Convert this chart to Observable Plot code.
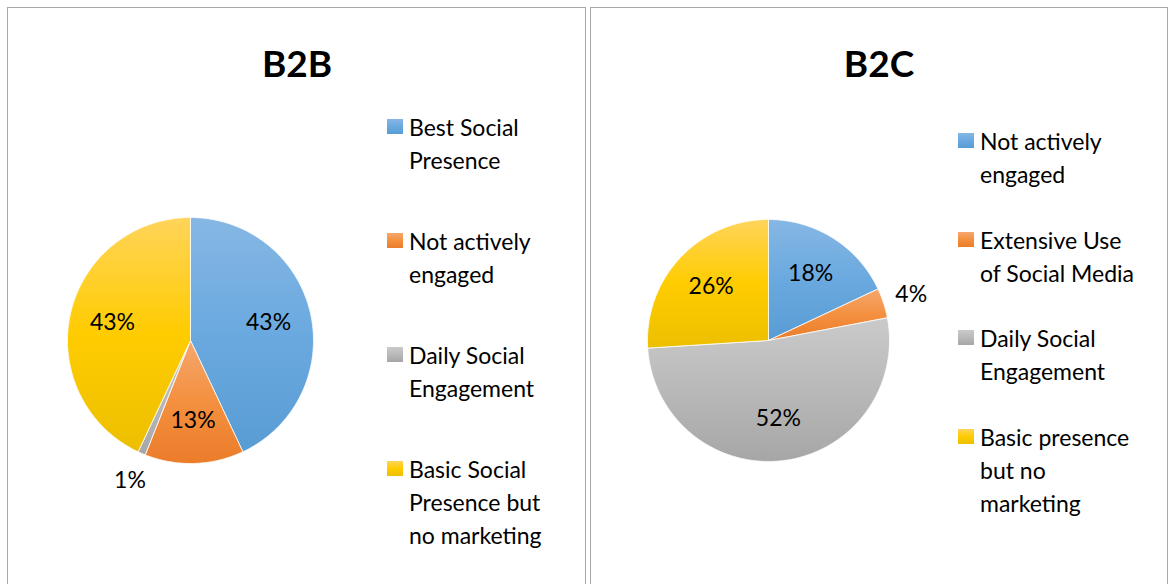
<!DOCTYPE html>
<html>
<head>
<meta charset="utf-8">
<script src="https://cdn.jsdelivr.net/npm/d3@7"></script>
<script src="https://cdn.jsdelivr.net/npm/@observablehq/plot@0.6"></script>
<style>
  body { margin: 0; background: #fff; }
  #root { position: relative; width: 1169px; height: 584px; overflow: hidden; font-family: Lato, "Open Sans", sans-serif; color: #000; }
  .panel { position: absolute; top: 7px; height: 620px; border: 1px solid #a8a8a8; box-sizing: border-box; }
  .title { position: absolute; text-align: center; font-weight: bold; font-size: 37px; line-height: 37px; }
  .legtext { position: absolute; font-size: 23px; line-height: 33px; white-space: nowrap; }
  .swatch { position: absolute; width: 16px; height: 15px; }
  .pie { position: absolute; }
</style>
</head>
<body>
<svg width="0" height="0" style="position:absolute">
  <defs id="gradDefs"></defs>
</svg>
<div id="root"></div>
<script>
// ---- data ----
const b2bCategories = ["Best Social Presence", "Not actively engaged", "Daily Social Engagement", "Basic Social Presence but no marketing"];
const b2bValues = [43, 13, 1, 43];
const b2bLegendLines = [["Best Social", "Presence"], ["Not actively", "engaged"], ["Daily Social", "Engagement"], ["Basic Social", "Presence but", "no marketing"]];

const b2cCategories = ["Not actively engaged", "Extensive Use of Social Media", "Daily Social Engagement", "Basic presence but no marketing"];
const b2cValues = [18, 4, 52, 26];
const b2cLegendLines = [["Not actively", "engaged"], ["Extensive Use", "of Social Media"], ["Daily Social", "Engagement"], ["Basic presence", "but no", "marketing"]];

const titles = ["B2B", "B2C"];
// gradient stops (top, middle, bottom) per slice index
const sliceColors = [
  ["#86b7e4", "#6aa9df", "#589cd4"],
  ["#f6a76e", "#f3903f", "#eb7c2a"],
  ["#cacaca", "#b9b9b9", "#a6a6a6"],
  ["#ffd45a", "#ffcc00", "#ecbf00"]
];

// ---- gradients ----
const defs = d3.select("#gradDefs");
sliceColors.forEach((c, i) => {
  const g = defs.append("linearGradient").attr("id", "grad" + i)
    .attr("x1", 0).attr("y1", 0).attr("x2", 0).attr("y2", 1);
  g.append("stop").attr("offset", "0%").attr("stop-color", c[0]);
  g.append("stop").attr("offset", "50%").attr("stop-color", c[1]);
  g.append("stop").attr("offset", "100%").attr("stop-color", c[2]);
});

// ---- layout ----
const panels = [
  { left: 7, width: 579, cx: 190, cy: 340, r: 123, titleX: 297, legX: 387, legTop: 119, legStep: 114,
    cats: b2bCategories, vals: b2bValues, lines: b2bLegendLines },
  { left: 590, width: 578, cx: 768, cy: 340, r: 121, titleX: 879, legX: 958, legTop: 133, legStep: 98.7,
    cats: b2cCategories, vals: b2cValues, lines: b2cLegendLines }
];

function piePlot(cats, vals, size, radiusPx) {
  const total = d3.sum(vals);
  const half = size / 2 / radiusPx;
  const pts = [];
  const labels = [];
  let acc = 0;
  cats.forEach((c, i) => {
    const a0 = acc / total * 2 * Math.PI;
    const a1 = (acc + vals[i]) / total * 2 * Math.PI;
    acc += vals[i];
    const n = Math.max(2, Math.ceil((a1 - a0) / (Math.PI / 360)));
    pts.push({ cat: c, x: 0, y: 0 });
    for (let k = 0; k <= n; k++) {
      const a = a0 + (a1 - a0) * k / n;
      pts.push({ cat: c, x: Math.sin(a), y: Math.cos(a) });
    }
    pts.push({ cat: c, x: 0, y: 0 });
    const am = (a0 + a1) / 2;
    const share = vals[i] / total;
    const lr = share < 0.05 ? 1.24 : 0.65;
    labels.push({ x: lr * Math.sin(am), y: lr * Math.cos(am), text: Math.round(share * 100) + "%" });
  });
  return Plot.plot({
    width: size, height: size, margin: 0,
    style: { fontFamily: "Lato, sans-serif", background: "transparent", overflow: "visible" },
    x: { domain: [-half, half], axis: null },
    y: { domain: [-half, half], axis: null },
    color: { type: "ordinal", domain: cats, range: cats.map((_, i) => `url(#grad${i})`) },
    marks: [
      Plot.line(pts, { x: "x", y: "y", z: "cat", fill: "cat", stroke: "white", strokeWidth: 1, strokeOpacity: 0.8 }),
      Plot.text(labels, { x: "x", y: "y", text: "text", fontSize: 23, fill: "black", lineAnchor: "middle" })
    ]
  });
}

const root = d3.select("#root");
panels.forEach((p, pi) => {
  root.append("div").attr("class", "panel")
    .style("left", p.left + "px").style("width", p.width + "px");
  root.append("div").attr("class", "title")
    .style("left", (p.titleX - 100) + "px").style("width", "200px").style("top", "44px")
    .text(titles[pi]);
  const size = 340;
  const svg = piePlot(p.cats, p.vals, size, p.r);
  const wrap = root.append("div").attr("class", "pie")
    .style("left", (p.cx - size / 2) + "px").style("top", (p.cy - size / 2) + "px");
  wrap.node().appendChild(svg);
  p.cats.forEach((c, i) => {
    const sq = p.legTop + i * p.legStep;
    const col = sliceColors[i];
    root.append("div").attr("class", "swatch")
      .style("left", p.legX + "px").style("top", sq + "px")
      .style("background", `linear-gradient(${col[0]}, ${col[1]} 50%, ${col[2]})`);
    root.append("div").attr("class", "legtext")
      .style("left", (p.legX + 22) + "px").style("top", (sq - 8) + "px")
      .attr("title", c)
      .html(p.lines[i].join("<br>"));
  });
});
</script>
</body>
</html>
